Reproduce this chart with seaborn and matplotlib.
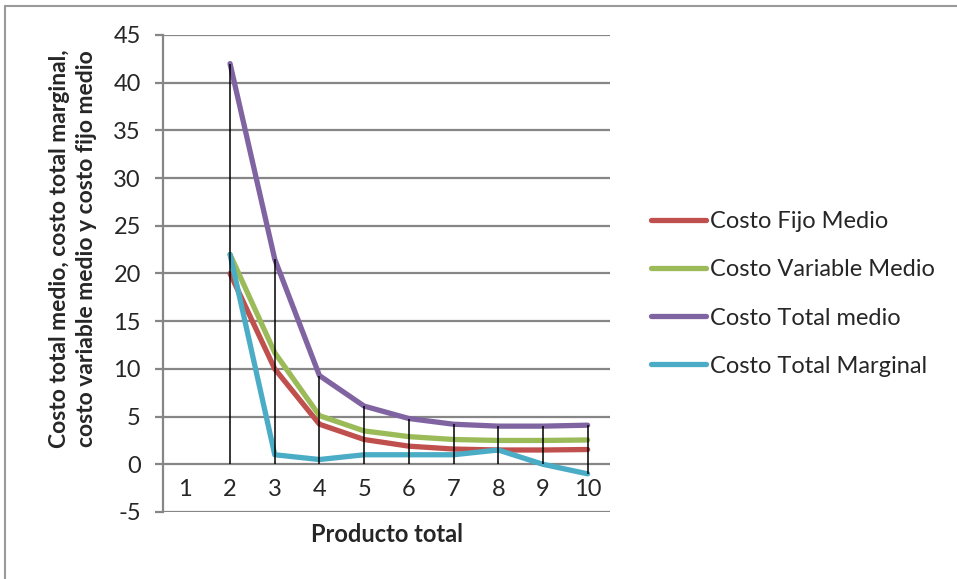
import numpy as np
import pandas as pd
import seaborn as sns
import matplotlib.pyplot as plt
from matplotlib.lines import Line2D

# data
producto = [1, 2, 3, 4, 5, 6, 7, 8, 9, 10]
costo_fijo_medio = [np.nan, 20, 10, 4.2, 2.6, 1.9, 1.6, 1.5, 1.5, 1.55]
costo_variable_medio = [np.nan, 22, 11.7, 5.1, 3.5, 2.9, 2.6, 2.5, 2.5, 2.55]
costo_total_medio = [np.nan, 42, 21.5, 9.3, 6.1, 4.8, 4.2, 4.0, 4.0, 4.1]
costo_total_marginal = [np.nan, 22, 1.0, 0.5, 1.0, 1.0, 1.0, 1.5, 0.0, -1.0]

series = {
    'Costo Fijo Medio': costo_fijo_medio,
    'Costo Variable Medio': costo_variable_medio,
    'Costo Total medio': costo_total_medio,
    'Costo Total Marginal': costo_total_marginal,
}
colores = ['#C0504D', '#9BBB59', '#8064A2', '#4BACC6']
y_ticks = [-5, 0, 5, 10, 15, 20, 25, 30, 35, 40, 45]

df = pd.DataFrame(series)
df['Producto'] = producto
long_df = df.melt(id_vars='Producto', var_name='Serie', value_name='Costo')

sns.set_style('white')
plt.rcParams['font.family'] = ['Lato', 'DejaVu Sans']
plt.rcParams['axes.unicode_minus'] = False

DPI = 100
fs = 17
fig = plt.figure(figsize=(957 / DPI, 579 / DPI), dpi=DPI)
ax = fig.add_axes([163 / 957, 1 - 512 / 579, (610 - 163) / 957, (512 - 35) / 579])

# drop lines from every point to the zero axis
stack = np.vstack([df[s] for s in series] + [np.zeros(len(df))])
hi = np.nanmax(stack, axis=0)
lo = np.nanmin(stack, axis=0)
mask = ~np.isnan(np.array(costo_total_medio))
ax.vlines(np.array(producto)[mask], lo[mask], hi[mask], color='black', lw=1.1, zorder=3)

sns.lineplot(data=long_df, x='Producto', y='Costo', hue='Serie', palette=colores,
             linewidth=3.8, ax=ax, legend=False, zorder=2)
for line in ax.get_lines():
    line.set_solid_capstyle('round')
    line.set_solid_joinstyle('round')

ax.set_xlim(0.5, 10.5)
ax.set_ylim(-5, 45)
ax.set_yticks(y_ticks)
ax.yaxis.grid(True, color='#868686', lw=1.6)
ax.set_axisbelow(True)
ax.set_xticks(producto)
ax.set_xticklabels([str(p) for p in producto])
ax.tick_params(axis='x', length=0, pad=-24, labelsize=fs)
ax.tick_params(axis='y', length=6, width=1.6, color='#868686', pad=10, labelsize=fs, left=True)
for s in ['top', 'right', 'bottom']:
    ax.spines[s].set_visible(False)
ax.spines['left'].set_color('#868686')
ax.spines['left'].set_linewidth(1.6)
ax.set_xlabel('')
ax.set_ylabel('')

fig.text(387 / 957, 1 - 535 / 579, 'Producto total', ha='center', va='center',
         fontsize=fs, fontweight='bold')
fig.text(73 / 957, 1 - 249 / 579,
         'Costo total medio, costo total marginal,\ncosto variable medio y costo fijo medio',
         ha='center', va='center', rotation=90, fontsize=16.5, fontweight='bold',
         linespacing=1.4)

handles = [Line2D([0], [0], color=c, lw=3.8, solid_capstyle='round') for c in colores]
fig.legend(handles, list(series.keys()), loc='center left',
           bbox_to_anchor=(642 / 957, 1 - 294 / 579), frameon=False, fontsize=fs,
           handlelength=2.3, handletextpad=0.2, labelspacing=1.15, borderaxespad=0)

# outer chart border (top and left edges visible)
fig.add_artist(Line2D([5 / 957, 5 / 957], [0, 1 - 6 / 579], color='#9a9a9a', lw=1.5))
fig.add_artist(Line2D([5 / 957, 1], [1 - 6 / 579, 1 - 6 / 579], color='#9a9a9a', lw=1.5))

fig.savefig('out.png', dpi=DPI)
